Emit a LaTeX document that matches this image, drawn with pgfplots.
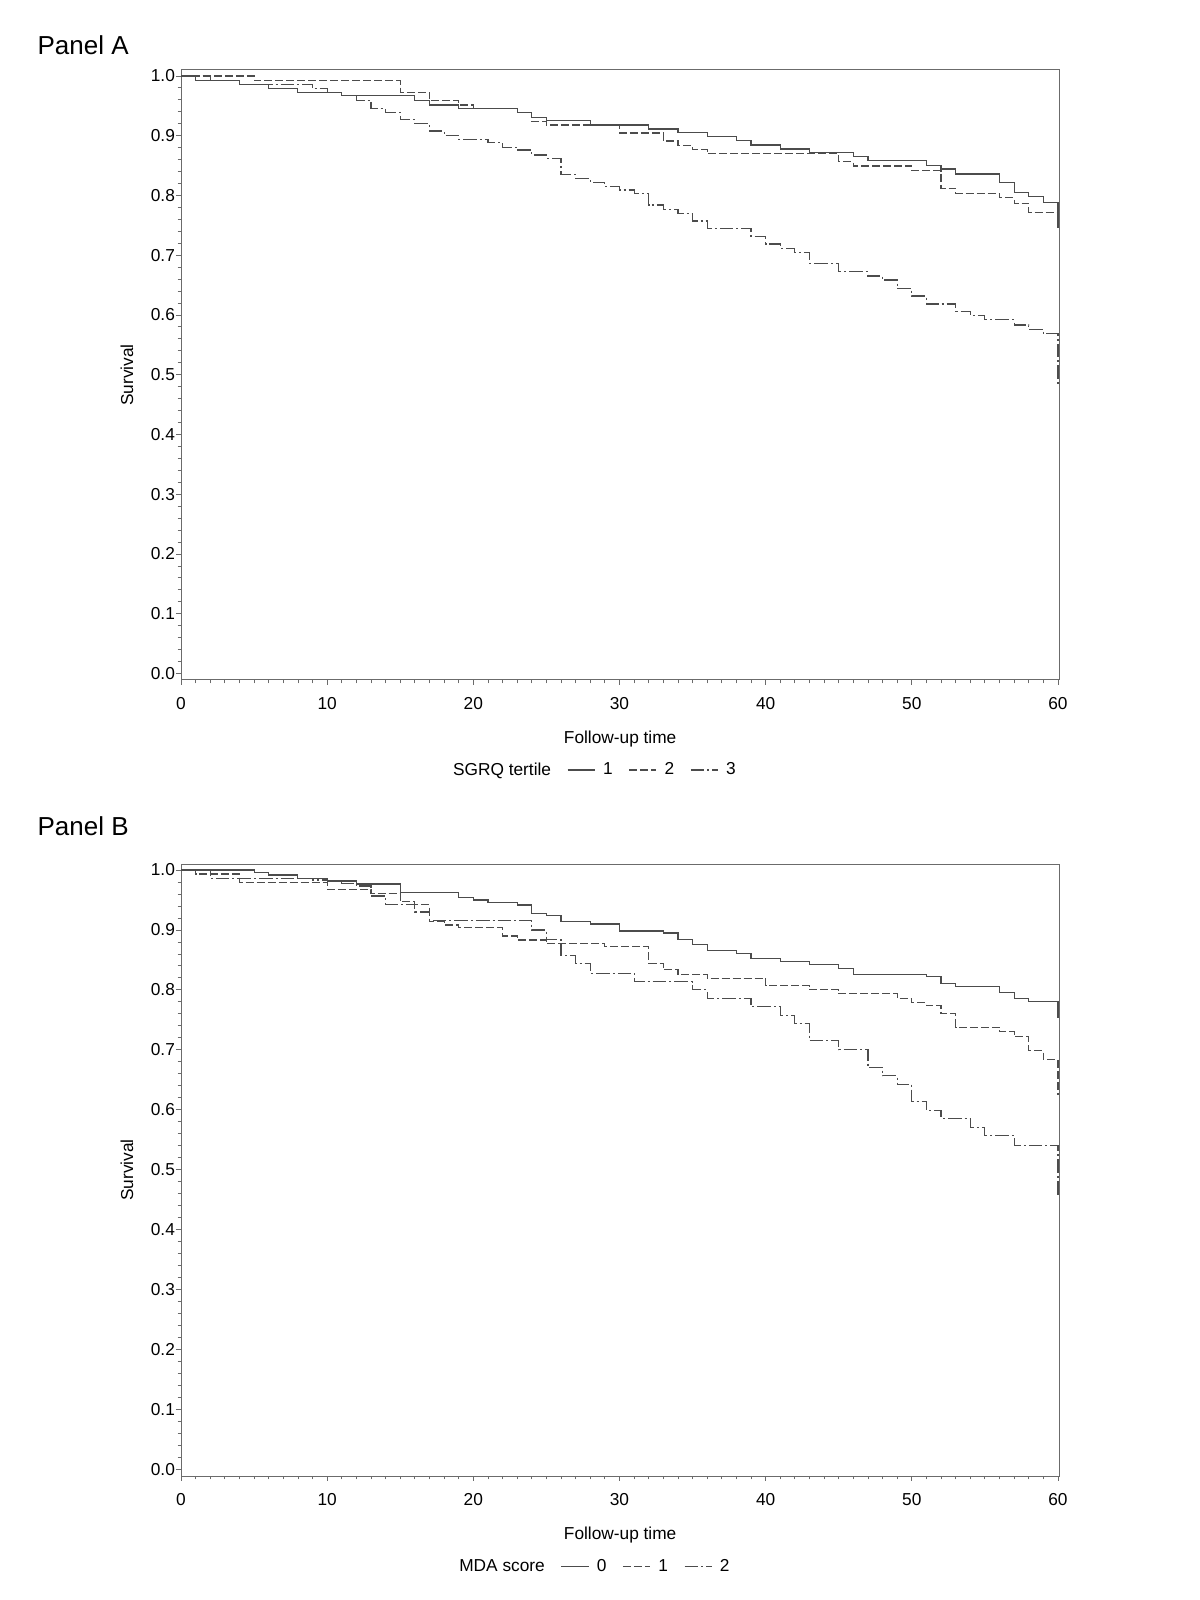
\documentclass[border=0pt]{standalone}
\usepackage{fontspec}
\setmainfont{Liberation Sans}
\usepackage{pgfplots}
\pgfplotsset{compat=1.18}
\newcommand\sasfont{\fontsize{12.3pt}{14pt}\selectfont}
\newcommand\panelfont{\fontsize{18.5pt}{22pt}\selectfont}
\definecolor{curve}{gray}{0.30}
\definecolor{frame}{gray}{0.42}
\tikzset{
  km1/.style={curve, line width=0.8pt, solid},
  km2/.style={curve, line width=0.8pt, dash pattern=on 0.2cm off 0.075cm},
  km3/.style={curve, line width=0.8pt, dash pattern=on 0.34cm off 0.075cm on 0.05cm off 0.075cm},
}
\pgfplotsset{
  kmaxis/.style={
    scale only axis, width=21.9575cm,
    xmin=0, xmax=60.09,
    xtick={0,10,20,30,40,50,60}, minor x tick num=9,
    ytick={0,0.1,0.2,0.3,0.4,0.5,0.6,0.7,0.8,0.9,1.0}, minor y tick num=4,
    tick pos=left, tick align=outside,
    major tick length=0.125cm, minor tick length=0.085cm,
    axis line style={frame, line width=0.7pt},
    every tick/.style={frame, line width=0.6pt},
    tick label style={font=\sasfont},
    label style={font=\sasfont},
    /pgf/number format/assume math mode=true,
    yticklabel style={/pgf/number format/.cd, fixed, fixed zerofill, precision=1, /tikz/.cd, anchor=east, inner sep=0.6pt},
    xticklabel style={anchor=north, inner sep=0pt, yshift=-0.3cm},
    xlabel={Follow-up time}, ylabel={Survival},
    xlabel style={at={(axis description cs:0.5,-0.1038)}, anchor=base},
    ylabel style={at={(axis description cs:-0.0615,0.5)}, anchor=center},
    legend style={at={(axis description cs:0.468,-0.1475)}, anchor=center,
      draw=none, fill=none, font=\sasfont, legend columns=-1,
      /tikz/every even column/.append style={column sep=0.33cm},
      /tikz/every odd column/.append style={column sep=0.12cm}},
    legend image code/.code={\draw[##1] (0cm,0cm) -- (0.68cm,0cm);},
    const plot mark left,
  }
}
\pgfplotstableread{
t s
0 1.0
1 0.992
4 0.986
6 0.979
8 0.973
11 0.967
16 0.959
17 0.9515
19 0.945
23 0.939
24 0.931
25 0.925
28 0.918
32 0.9113
34 0.9057
36 0.8985
38 0.8917
39 0.8845
41 0.8778
43 0.8722
46 0.865
47 0.8583
51 0.8499
52 0.8443
53 0.8359
56 0.8214
57 0.8053
58 0.798
59 0.7885
60 0.7885
60 0.745
}\tabAone
\pgfplotstableread{
t s
0 1.0
5 0.992
15 0.973
17 0.959
19 0.9515
20 0.945
23 0.939
24 0.9236
25 0.918
30 0.9045
33 0.8912
34 0.8829
35 0.8762
36 0.8695
45 0.8566
46 0.8494
50 0.8416
52 0.8119
53 0.8036
56 0.7964
57 0.7869
58 0.7718
60 0.7718
}\tabAtwo
\pgfplotstableread{
t s
0 1.0
2 0.992
4 0.986
9 0.979
10 0.973
11 0.967
12 0.959
13 0.945
14 0.939
15 0.9264
16 0.9208
17 0.9079
18 0.9007
19 0.894
21 0.8884
22 0.8806
23 0.8761
24 0.8678
25 0.8622
26 0.8354
27 0.8288
28 0.822
29 0.8148
30 0.8092
31 0.8036
32 0.7841
33 0.7768
34 0.7701
35 0.7573
36 0.745
39 0.7311
40 0.7188
41 0.7116
42 0.7049
43 0.6864
45 0.6725
47 0.6653
48 0.6586
49 0.6446
50 0.6318
51 0.6184
53 0.6056
54 0.5984
55 0.5917
57 0.5833
58 0.5761
59 0.5683
60 0.5683
60 0.4829
}\tabAthree
\pgfplotstableread{
t s
0 1.0
5 0.9956
6 0.9917
8 0.986
10 0.9817
12 0.9767
15 0.9628
19 0.9544
20 0.95
21 0.9461
23 0.9417
24 0.9278
25 0.9239
26 0.9139
28 0.91
30 0.8983
33 0.895
34 0.8844
35 0.875
36 0.8656
38 0.8611
39 0.8528
41 0.8472
43 0.8428
45 0.8361
46 0.825
51 0.8222
52 0.8111
53 0.8056
56 0.7956
57 0.7861
58 0.7806
60 0.7806
60 0.7528
}\tabBone
\pgfplotstableread{
t s
0 1.0
1 0.9933
4 0.9794
10 0.968
13 0.961
15 0.9472
16 0.9420
17 0.9139
18 0.9083
19 0.9039
22 0.89
23 0.8833
25 0.8767
29 0.8722
32 0.8444
33 0.8333
34 0.825
36 0.8194
40 0.8067
43 0.8
45 0.7933
49 0.7861
50 0.7789
51 0.7733
52 0.76
53 0.7378
56 0.7306
57 0.7222
58 0.6989
59 0.6833
60 0.6833
60 0.625
}\tabBtwo
\pgfplotstableread{
t s
0 1.0
2 0.986
9 0.9833
10 0.9806
11 0.978
12 0.9733
13 0.9567
14 0.943
16 0.930
17 0.9156
24 0.9
25 0.8844
26 0.8567
27 0.8444
28 0.8278
31 0.8139
35 0.8
36 0.7861
39 0.7722
41 0.7572
42 0.7433
43 0.7156
45 0.7
47 0.6711
48 0.6567
49 0.6428
50 0.6139
51 0.5989
52 0.5861
54 0.5706
55 0.5567
57 0.5406
60 0.5406
60 0.4556
}\tabBthree
\begin{document}
\begin{tikzpicture}
\path[use as bounding box] (0,0) rectangle (30,40);
\node[anchor=base west, inner sep=0pt, font=\panelfont] at (0.9325,38.6425) {Panel A};
\node[anchor=base west, inner sep=0pt, font=\panelfont] at (0.9325,19.1) {Panel B};
\begin{axis}[kmaxis, at={(4.525cm,23cm)}, anchor=south west,
  height=15.25cm, ymin=-0.0109, ymax=1.010]
  \addlegendimage{empty legend}\addlegendentry{SGRQ tertile}
  \addplot[km1] table[x=t,y=s] {\tabAone}; \addlegendentry{1}
  \addplot[km2] table[x=t,y=s] {\tabAtwo}; \addlegendentry{2}
  \addplot[km3] table[x=t,y=s] {\tabAthree}; \addlegendentry{3}
\end{axis}
\begin{axis}[kmaxis, at={(4.525cm,3.1cm)}, anchor=south west,
  height=15.3cm, ymin=-0.0108, ymax=1.010]
  \addlegendimage{empty legend}\addlegendentry{MDA score}
  \addplot[km1] table[x=t,y=s] {\tabBone}; \addlegendentry{0}
  \addplot[km2] table[x=t,y=s] {\tabBtwo}; \addlegendentry{1}
  \addplot[km3] table[x=t,y=s] {\tabBthree}; \addlegendentry{2}
\end{axis}
\end{tikzpicture}
\end{document}
